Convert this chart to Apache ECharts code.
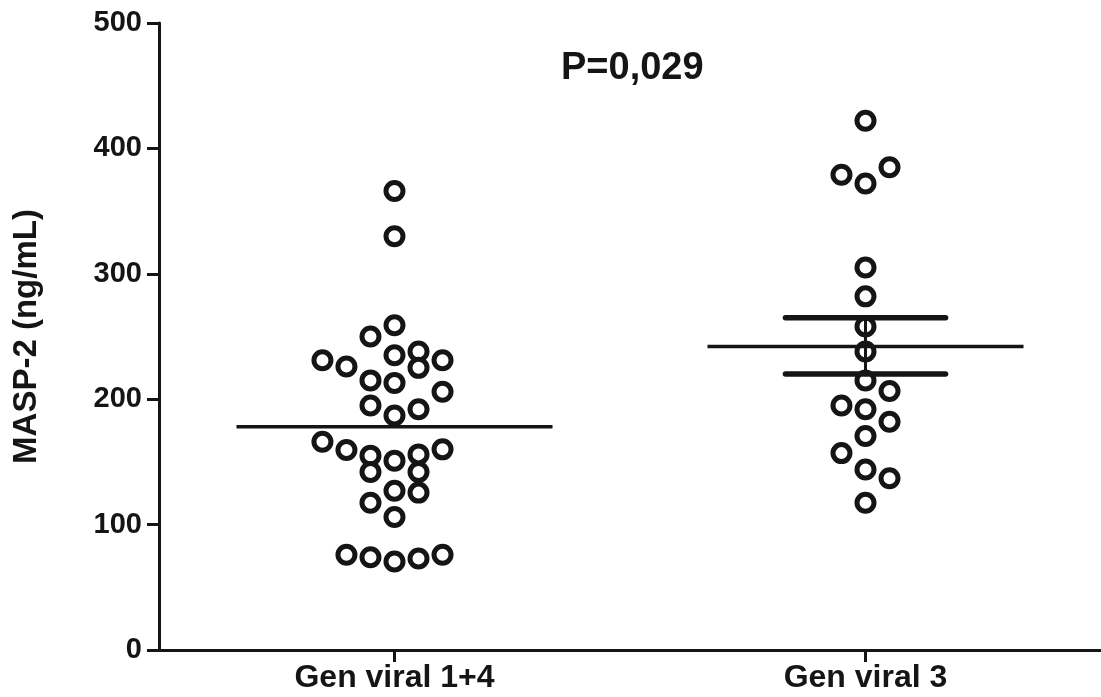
<!DOCTYPE html>
<html>
<head>
<meta charset="utf-8">
<script src="https://cdn.jsdelivr.net/npm/echarts@6/dist/echarts.min.js"></script>
<style>
html,body{margin:0;padding:0;background:#fff;}
#chart{width:1101px;height:697px;}
</style>
</head>
<body>
<div id="chart"></div>
<script>
// ---- data ----
const categories = ['Gen viral 1+4', 'Gen viral 3'];
const categoryPositions = [1, 3];           // x-axis value of each group centre
const group1Values = [366, 330, 259, 250, 238, 235, 231, 231, 226, 225, 215, 213, 206, 195, 192, 187,
                      166, 159.5, 155, 156, 160, 151, 142, 142, 127, 125.5, 117.5, 106, 76, 74, 70.5, 73, 76];
const group1Slots  = [0, 0, 0, -1, 1, 0, -3, 2, -2, 1, -1, 0, 2, -1, 1, 0,
                      -3, -2, -1, 1, 2, 0, -1, 1, 0, 1, -1, 0, -2, -1, 0, 1, 2];
const group2Values = [422, 379, 372, 385, 305, 282, 258, 238, 215, 206.5, 195, 192, 182, 170.6, 157, 144, 137, 117.5];
const group2Slots  = [0, -1, 0, 1, 0, 0, 0, 0, 0, 1, -1, 0, 1, 0, -1, 0, 1, 0];
const groupMeans = [178, 242];
const groupSemLow = [null, 220];
const groupSemHigh = [null, 265];
const yTicks = [0, 100, 200, 300, 400, 500];
const pValueText = 'P=0,029';
const yAxisTitle = 'MASP-2 (ng/mL)';

// ---- styling constants ----
const SLOT = 0.102;        // jitter step in x-axis units
const MEAN_HALF = 0.671;   // half width of mean line
const SEM_HALF = 0.34;     // half width of SEM caps
const INK = '#151515';
const FONT = "'Liberation Sans', Arial, sans-serif";

function pts(values, slots, gi) {
  return values.map((v, i) => [categoryPositions[gi] + slots[i] * SLOT, v]);
}

const meanData = [];
groupMeans.forEach((m, i) => {
  meanData.push([categoryPositions[i] - MEAN_HALF, m]);
  meanData.push([categoryPositions[i] + MEAN_HALF, m]);
  if (i < groupMeans.length - 1) meanData.push([null, null]);
});

const semData = [];
groupMeans.forEach((m, i) => {
  if (groupSemLow[i] != null) semData.push([categoryPositions[i], groupSemLow[i], groupSemHigh[i]]);
});

const chart = echarts.init(document.getElementById('chart'), null, {renderer: 'canvas'});
chart.setOption({
  animation: false,
  backgroundColor: '#fff',
  title: {
    text: pValueText,
    left: 561, top: 50, padding: 0,
    textStyle: {fontSize: 38, fontWeight: 'bold', color: INK, fontFamily: FONT}
  },
  grid: {left: 159, right: 0, top: 23, bottom: 47, containLabel: false, outerBoundsMode: 'none'},
  xAxis: {
    type: 'value', min: 0, max: 4,
    axisLine: {show: true, onZero: false, lineStyle: {color: INK, width: 3}},
    axisTick: {show: true, customValues: categoryPositions, length: 12, lineStyle: {color: INK, width: 3}},
    axisLabel: {
      show: true, customValues: categoryPositions, margin: 12,
      formatter: v => categories[categoryPositions.indexOf(v)] || '',
      fontSize: 32, fontWeight: 'bold', color: INK, fontFamily: FONT
    },
    splitLine: {show: false}
  },
  yAxis: {
    type: 'value', min: yTicks[0], max: yTicks[yTicks.length - 1], interval: 100,
    name: yAxisTitle, nameLocation: 'middle', nameRotate: 90, nameGap: 116,
    nameTextStyle: {fontSize: 33, fontWeight: 'bold', color: INK, fontFamily: FONT},
    axisLine: {show: true, lineStyle: {color: INK, width: 3}},
    axisTick: {show: true, length: 12, lineStyle: {color: INK, width: 3}},
    axisLabel: {margin: 17, fontSize: 29, fontWeight: 'bold', color: INK, fontFamily: FONT},
    splitLine: {show: false}
  },
  series: [
    {
      type: 'scatter', name: categories[0], data: pts(group1Values, group1Slots, 0),
      symbol: 'circle', symbolSize: 17, z: 2,
      itemStyle: {color: '#fff', borderColor: INK, borderWidth: 5, opacity: 1}
    },
    {
      type: 'scatter', name: categories[1], data: pts(group2Values, group2Slots, 1),
      symbol: 'circle', symbolSize: 17, z: 2,
      itemStyle: {color: '#fff', borderColor: INK, borderWidth: 5, opacity: 1}
    },
    {
      type: 'line', data: meanData, symbol: 'none', connectNulls: false, z: 5,
      lineStyle: {color: INK, width: 3.5}
    },
    {
      type: 'custom', data: semData, z: 6,
      renderItem: function (params, api) {
        const x = api.value(0), lo = api.value(1), hi = api.value(2);
        const pLo = api.coord([x, lo]), pHi = api.coord([x, hi]);
        const l1 = api.coord([x - SEM_HALF, lo]), r1 = api.coord([x + SEM_HALF, lo]);
        const l2 = api.coord([x - SEM_HALF, hi]), r2 = api.coord([x + SEM_HALF, hi]);
        return {
          type: 'group',
          children: [
            {type: 'line', shape: {x1: pLo[0], y1: pLo[1], x2: pHi[0], y2: pHi[1]},
             style: {stroke: INK, lineWidth: 3}},
            {type: 'line', shape: {x1: l1[0], y1: l1[1], x2: r1[0], y2: r1[1]},
             style: {stroke: INK, lineWidth: 5.5, lineCap: 'round'}},
            {type: 'line', shape: {x1: l2[0], y1: l2[1], x2: r2[0], y2: r2[1]},
             style: {stroke: INK, lineWidth: 5.5, lineCap: 'round'}}
          ]
        };
      }
    }
  ]
});
</script>
</body>
</html>
